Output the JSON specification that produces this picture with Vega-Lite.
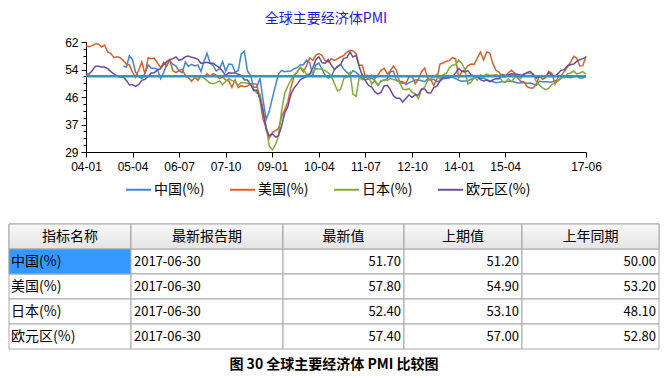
{
"$schema": "https://vega.github.io/schema/vega-lite/v6.json",
"background": "white",
"padding": {"left": 8, "top": 12, "right": 7, "bottom": 6},
"datasets": {
"pmi": [
{"月份":"2004-01","美国(%)":60.8,"欧元区(%)":52.4},
{"月份":"2004-02","美国(%)":60.6,"欧元区(%)":52.4},
{"月份":"2004-03","美国(%)":60.9,"欧元区(%)":53.4},
{"月份":"2004-04","美国(%)":61.4,"欧元区(%)":54.7},
{"月份":"2004-05","美国(%)":61.4,"欧元区(%)":54.7},
{"月份":"2004-06","美国(%)":60.5,"欧元区(%)":54.5},
{"月份":"2004-07","美国(%)":61.1,"欧元区(%)":54.5},
{"月份":"2004-08","美国(%)":59.0,"欧元区(%)":54.0},
{"月份":"2004-09","美国(%)":58.5,"欧元区(%)":53.1},
{"月份":"2004-10","美国(%)":57.3,"欧元区(%)":52.4},
{"月份":"2004-11","美国(%)":57.6,"欧元区(%)":51.8},
{"月份":"2004-12","美国(%)":57.3,"欧元区(%)":51.4},
{"月份":"2005-01","中国(%)":54.7,"美国(%)":56.4,"欧元区(%)":51.6},
{"月份":"2005-02","中国(%)":54.5,"美国(%)":55.3,"欧元区(%)":50.4},
{"月份":"2005-03","中国(%)":57.9,"美国(%)":55.2,"欧元区(%)":49.2},
{"月份":"2005-04","中国(%)":56.7,"美国(%)":52.9,"欧元区(%)":49.2},
{"月份":"2005-05","中国(%)":52.9,"美国(%)":51.4,"欧元区(%)":48.7},
{"月份":"2005-06","中国(%)":51.7,"美国(%)":53.6,"欧元区(%)":49.3},
{"月份":"2005-07","中国(%)":51.1,"美国(%)":56.0,"欧元区(%)":50.5},
{"月份":"2005-08","中国(%)":52.6,"美国(%)":52.4,"欧元区(%)":50.8},
{"月份":"2005-09","中国(%)":55.1,"美国(%)":57.3,"欧元区(%)":51.7},
{"月份":"2005-10","中国(%)":54.1,"美国(%)":57.0,"欧元区(%)":52.7},
{"月份":"2005-11","中国(%)":54.1,"美国(%)":57.2,"欧元区(%)":52.8},
{"月份":"2005-12","中国(%)":53.8,"美国(%)":55.7,"欧元区(%)":53.6},
{"月份":"2006-01","中国(%)":51.0,"美国(%)":54.3,"欧元区(%)":54.0},
{"月份":"2006-02","中国(%)":52.9,"美国(%)":55.9,"欧元区(%)":55.3},
{"月份":"2006-03","中国(%)":55.3,"美国(%)":54.7,"欧元区(%)":56.1},
{"月份":"2006-04","中国(%)":56.4,"美国(%)":56.6,"欧元区(%)":56.7},
{"月份":"2006-05","中国(%)":55.3,"美国(%)":53.4,"欧元区(%)":57.0},
{"月份":"2006-06","中国(%)":54.8,"美国(%)":52.8,"欧元区(%)":57.5},
{"月份":"2006-07","中国(%)":53.3,"美国(%)":53.5,"欧元区(%)":56.5},
{"月份":"2006-08","中国(%)":52.8,"美国(%)":53.8,"欧元区(%)":56.8},
{"月份":"2006-09","中国(%)":56.0,"美国(%)":52.0,"欧元区(%)":57.6},
{"月份":"2006-10","中国(%)":54.7,"美国(%)":51.3,"欧元区(%)":57.8},
{"月份":"2006-11","中国(%)":55.3,"美国(%)":50.2,"欧元区(%)":57.4},
{"月份":"2006-12","中国(%)":54.8,"美国(%)":51.4,"欧元区(%)":57.2},
{"月份":"2007-01","中国(%)":55.1,"美国(%)":50.5,"日本(%)":51.0,"欧元区(%)":56.8},
{"月份":"2007-02","中国(%)":53.1,"美国(%)":51.8,"日本(%)":52.0,"欧元区(%)":55.6},
{"月份":"2007-03","中国(%)":56.1,"美国(%)":51.5,"日本(%)":51.2,"欧元区(%)":55.8},
{"月份":"2007-04","中国(%)":58.6,"美国(%)":52.5,"日本(%)":50.4,"欧元区(%)":55.9},
{"月份":"2007-05","中国(%)":55.7,"美国(%)":51.8,"日本(%)":49.7,"欧元区(%)":55.6},
{"月份":"2007-06","中国(%)":54.9,"美国(%)":52.5,"日本(%)":49.5,"欧元区(%)":55.6},
{"月份":"2007-07","中国(%)":53.3,"美国(%)":52.0,"日本(%)":49.8,"欧元区(%)":54.9},
{"月份":"2007-08","中国(%)":54.0,"美国(%)":51.0,"日本(%)":50.3,"欧元区(%)":54.3},
{"月份":"2007-09","中国(%)":56.1,"美国(%)":51.5,"日本(%)":49.2,"欧元区(%)":53.2},
{"月份":"2007-10","中国(%)":53.2,"美国(%)":50.6,"日本(%)":50.2,"欧元区(%)":51.9},
{"月份":"2007-11","中国(%)":55.4,"美国(%)":50.3,"日本(%)":51.0,"欧元区(%)":52.8},
{"月份":"2007-12","中国(%)":55.3,"美国(%)":48.4,"日本(%)":50.4,"欧元区(%)":52.6},
{"月份":"2008-01","中国(%)":53.0,"美国(%)":50.7,"日本(%)":50.1,"欧元区(%)":52.8},
{"月份":"2008-02","中国(%)":53.4,"美国(%)":48.3,"日本(%)":49.0,"欧元区(%)":52.3},
{"月份":"2008-03","中国(%)":58.4,"美国(%)":48.9,"日本(%)":49.8,"欧元区(%)":52.0},
{"月份":"2008-04","中国(%)":59.2,"美国(%)":48.6,"日本(%)":49.8,"欧元区(%)":50.7},
{"月份":"2008-05","中国(%)":53.3,"美国(%)":48.8,"日本(%)":49.6,"欧元区(%)":50.6},
{"月份":"2008-06","中国(%)":52.0,"美国(%)":49.5,"日本(%)":49.2,"欧元区(%)":49.2},
{"月份":"2008-07","中国(%)":48.4,"美国(%)":49.5,"日本(%)":47.9,"欧元区(%)":47.4},
{"月份":"2008-08","中国(%)":48.4,"美国(%)":49.3,"日本(%)":46.7,"欧元区(%)":47.6},
{"月份":"2008-09","中国(%)":51.2,"美国(%)":44.8,"日本(%)":46.4,"欧元区(%)":45.0},
{"月份":"2008-10","中国(%)":44.6,"美国(%)":38.7,"日本(%)":42.1,"欧元区(%)":41.1},
{"月份":"2008-11","中国(%)":38.8,"美国(%)":36.4,"日本(%)":36.5,"欧元区(%)":35.6},
{"月份":"2008-12","中国(%)":41.2,"美国(%)":33.1,"日本(%)":30.8,"欧元区(%)":33.9},
{"月份":"2009-01","中国(%)":45.3,"美国(%)":34.9,"日本(%)":29.6,"欧元区(%)":34.4},
{"月份":"2009-02","中国(%)":49.0,"美国(%)":35.5,"日本(%)":31.3,"欧元区(%)":33.5},
{"月份":"2009-03","中国(%)":52.4,"美国(%)":36.0,"日本(%)":33.8,"欧元区(%)":33.9},
{"月份":"2009-04","中国(%)":53.5,"美国(%)":39.5,"日本(%)":41.4,"欧元区(%)":36.8},
{"月份":"2009-05","中国(%)":53.1,"美国(%)":41.7,"日本(%)":46.6,"欧元区(%)":40.7},
{"月份":"2009-06","中国(%)":53.2,"美国(%)":44.0,"日本(%)":48.8,"欧元区(%)":42.6},
{"月份":"2009-07","中国(%)":53.3,"美国(%)":48.4,"日本(%)":50.6,"欧元区(%)":46.3},
{"月份":"2009-08","中国(%)":54.0,"美国(%)":51.6,"日本(%)":52.1,"欧元区(%)":48.2},
{"月份":"2009-09","中国(%)":54.3,"美国(%)":53.1,"日本(%)":53.0,"欧元区(%)":49.3},
{"月份":"2009-10","中国(%)":55.2,"美国(%)":54.4,"日本(%)":54.3,"欧元区(%)":50.7},
{"月份":"2009-11","中国(%)":55.2,"美国(%)":53.0,"日本(%)":53.8,"欧元区(%)":51.2},
{"月份":"2009-12","中国(%)":56.6,"美国(%)":54.9,"日本(%)":52.3,"欧元区(%)":51.6},
{"月份":"2010-01","中国(%)":55.8,"美国(%)":57.2,"日本(%)":52.4,"欧元区(%)":52.4},
{"月份":"2010-02","中国(%)":52.0,"美国(%)":56.5,"日本(%)":52.5,"欧元区(%)":54.2},
{"月份":"2010-03","中国(%)":55.1,"美国(%)":58.0,"日本(%)":54.0,"欧元区(%)":56.6},
{"月份":"2010-04","中国(%)":55.7,"美国(%)":58.5,"日本(%)":53.9,"欧元区(%)":57.6},
{"月份":"2010-05","中国(%)":53.9,"美国(%)":58.0,"日本(%)":53.9,"欧元区(%)":55.8},
{"月份":"2010-06","中国(%)":52.1,"美国(%)":56.5,"日本(%)":53.4,"欧元区(%)":55.6},
{"月份":"2010-07","中国(%)":51.2,"美国(%)":56.0,"日本(%)":52.8,"欧元区(%)":56.7},
{"月份":"2010-08","中国(%)":51.7,"美国(%)":57.0,"日本(%)":51.8,"欧元区(%)":55.1},
{"月份":"2010-09","中国(%)":53.8,"美国(%)":56.5,"日本(%)":49.5,"欧元区(%)":53.7},
{"月份":"2010-10","中国(%)":54.7,"美国(%)":57.0,"日本(%)":47.3,"欧元区(%)":54.6},
{"月份":"2010-11","中国(%)":55.2,"美国(%)":57.5,"日本(%)":47.8,"欧元区(%)":55.3},
{"月份":"2010-12","中国(%)":53.9,"美国(%)":58.0,"日本(%)":51.1,"欧元区(%)":57.1},
{"月份":"2011-01","中国(%)":52.9,"美国(%)":59.0,"日本(%)":51.4,"欧元区(%)":57.3},
{"月份":"2011-02","中国(%)":52.2,"美国(%)":59.5,"日本(%)":52.9,"欧元区(%)":59.0},
{"月份":"2011-03","中国(%)":53.4,"美国(%)":59.3,"日本(%)":46.4,"欧元区(%)":57.5},
{"月份":"2011-04","中国(%)":52.9,"美国(%)":58.5,"日本(%)":45.7,"欧元区(%)":58.0},
{"月份":"2011-05","中国(%)":52.0,"美国(%)":55.0,"日本(%)":51.3,"欧元区(%)":54.6},
{"月份":"2011-06","中国(%)":50.9,"美国(%)":55.0,"日本(%)":50.7,"欧元区(%)":52.0},
{"月份":"2011-07","中国(%)":50.7,"美国(%)":51.5,"日本(%)":52.1,"欧元区(%)":50.4},
{"月份":"2011-08","中国(%)":50.9,"美国(%)":51.0,"日本(%)":51.9,"欧元区(%)":49.0},
{"月份":"2011-09","中国(%)":51.2,"美国(%)":52.0,"日本(%)":49.3,"欧元区(%)":48.5},
{"月份":"2011-10","中国(%)":50.4,"美国(%)":51.0,"日本(%)":50.6,"欧元区(%)":47.1},
{"月份":"2011-11","中国(%)":49.0,"美国(%)":52.0,"日本(%)":49.1,"欧元区(%)":46.4},
{"月份":"2011-12","中国(%)":50.3,"美国(%)":53.5,"日本(%)":50.2,"欧元区(%)":46.9},
{"月份":"2012-01","中国(%)":50.5,"美国(%)":54.1,"日本(%)":50.7,"欧元区(%)":48.8},
{"月份":"2012-02","中国(%)":51.0,"美国(%)":52.4,"日本(%)":50.5,"欧元区(%)":49.0},
{"月份":"2012-03","中国(%)":53.1,"美国(%)":53.4,"日本(%)":51.1,"欧元区(%)":47.7},
{"月份":"2012-04","中国(%)":53.3,"美国(%)":54.8,"日本(%)":50.7,"欧元区(%)":45.9},
{"月份":"2012-05","中国(%)":50.4,"美国(%)":53.5,"日本(%)":50.7,"欧元区(%)":45.1},
{"月份":"2012-06","中国(%)":50.2,"美国(%)":49.7,"日本(%)":49.9,"欧元区(%)":45.1},
{"月份":"2012-07","中国(%)":50.1,"美国(%)":49.8,"日本(%)":47.9,"欧元区(%)":44.0},
{"月份":"2012-08","中国(%)":49.2,"美国(%)":49.6,"日本(%)":47.7,"欧元区(%)":45.1},
{"月份":"2012-09","中国(%)":49.8,"美国(%)":51.5,"日本(%)":48.0,"欧元区(%)":46.1},
{"月份":"2012-10","中国(%)":50.2,"美国(%)":51.7,"日本(%)":46.9,"欧元区(%)":45.4},
{"月份":"2012-11","中国(%)":50.6,"美国(%)":49.5,"日本(%)":46.5,"欧元区(%)":46.2},
{"月份":"2012-12","中国(%)":50.6,"美国(%)":50.7,"日本(%)":45.0,"欧元区(%)":46.1},
{"月份":"2013-01","中国(%)":50.4,"美国(%)":53.1,"日本(%)":47.7,"欧元区(%)":47.9},
{"月份":"2013-02","中国(%)":50.1,"美国(%)":54.2,"日本(%)":48.5,"欧元区(%)":47.9},
{"月份":"2013-03","中国(%)":50.9,"美国(%)":51.3,"日本(%)":50.4,"欧元区(%)":46.8},
{"月份":"2013-04","中国(%)":50.6,"美国(%)":50.7,"日本(%)":51.1,"欧元区(%)":46.7},
{"月份":"2013-05","中国(%)":50.8,"美国(%)":49.0,"日本(%)":51.5,"欧元区(%)":48.3},
{"月份":"2013-06","中国(%)":50.1,"美国(%)":50.9,"日本(%)":52.3,"欧元区(%)":48.8},
{"月份":"2013-07","中国(%)":50.3,"美国(%)":55.4,"日本(%)":50.7,"欧元区(%)":50.3},
{"月份":"2013-08","中国(%)":51.0,"美国(%)":55.7,"日本(%)":52.2,"欧元区(%)":51.4},
{"月份":"2013-09","中国(%)":51.1,"美国(%)":56.2,"日本(%)":52.5,"欧元区(%)":51.1},
{"月份":"2013-10","中国(%)":51.4,"美国(%)":56.4,"日本(%)":54.2,"欧元区(%)":51.3},
{"月份":"2013-11","中国(%)":51.4,"美国(%)":57.3,"日本(%)":55.1,"欧元区(%)":51.6},
{"月份":"2013-12","中国(%)":51.0,"美国(%)":57.0,"日本(%)":55.2,"欧元区(%)":52.7},
{"月份":"2014-01","中国(%)":50.5,"美国(%)":51.3,"日本(%)":56.6,"欧元区(%)":54.0},
{"月份":"2014-02","中国(%)":50.2,"美国(%)":53.2,"日本(%)":55.5,"欧元区(%)":53.2},
{"月份":"2014-03","中国(%)":50.3,"美国(%)":53.7,"日本(%)":53.9,"欧元区(%)":53.0},
{"月份":"2014-04","中国(%)":50.4,"美国(%)":54.9,"日本(%)":49.4,"欧元区(%)":53.4},
{"月份":"2014-05","中国(%)":50.8,"美国(%)":55.4,"日本(%)":49.9,"欧元区(%)":52.2},
{"月份":"2014-06","中国(%)":51.0,"美国(%)":55.3,"日本(%)":51.5,"欧元区(%)":51.8},
{"月份":"2014-07","中国(%)":51.7,"美国(%)":57.1,"日本(%)":50.5,"欧元区(%)":51.8},
{"月份":"2014-08","中国(%)":51.1,"美国(%)":59.0,"日本(%)":52.2,"欧元区(%)":50.7},
{"月份":"2014-09","中国(%)":51.1,"美国(%)":56.6,"日本(%)":51.7,"欧元区(%)":50.3},
{"月份":"2014-10","中国(%)":50.8,"美国(%)":59.0,"日本(%)":52.4,"欧元区(%)":50.6},
{"月份":"2014-11","中国(%)":50.3,"美国(%)":58.7,"日本(%)":52.0,"欧元区(%)":50.1},
{"月份":"2014-12","中国(%)":50.1,"美国(%)":55.5,"日本(%)":52.0,"欧元区(%)":50.6},
{"月份":"2015-01","中国(%)":49.8,"美国(%)":53.5,"日本(%)":52.2,"欧元区(%)":51.0},
{"月份":"2015-02","中国(%)":49.9,"美国(%)":52.9,"日本(%)":51.6,"欧元区(%)":51.0},
{"月份":"2015-03","中国(%)":50.1,"美国(%)":51.5,"日本(%)":50.3,"欧元区(%)":52.2},
{"月份":"2015-04","中国(%)":50.1,"美国(%)":51.5,"日本(%)":49.9,"欧元区(%)":52.0},
{"月份":"2015-05","中国(%)":50.2,"美国(%)":52.8,"日本(%)":50.9,"欧元区(%)":52.2},
{"月份":"2015-06","中国(%)":50.2,"美国(%)":53.5,"日本(%)":50.1,"欧元区(%)":52.5},
{"月份":"2015-07","中国(%)":50.0,"美国(%)":52.7,"日本(%)":51.2,"欧元区(%)":52.4},
{"月份":"2015-08","中国(%)":49.7,"美国(%)":51.1,"日本(%)":51.7,"欧元区(%)":52.3},
{"月份":"2015-09","中国(%)":49.8,"美国(%)":50.2,"日本(%)":51.0,"欧元区(%)":52.0},
{"月份":"2015-10","中国(%)":49.8,"美国(%)":50.1,"日本(%)":52.4,"欧元区(%)":52.3},
{"月份":"2015-11","中国(%)":49.6,"美国(%)":48.6,"日本(%)":52.6,"欧元区(%)":52.8},
{"月份":"2015-12","中国(%)":49.7,"美国(%)":48.2,"日本(%)":52.6,"欧元区(%)":53.2},
{"月份":"2016-01","中国(%)":49.4,"美国(%)":48.2,"日本(%)":52.3,"欧元区(%)":52.3},
{"月份":"2016-02","中国(%)":49.0,"美国(%)":49.5,"日本(%)":50.1,"欧元区(%)":51.2},
{"月份":"2016-03","中国(%)":50.2,"美国(%)":51.8,"日本(%)":49.1,"欧元区(%)":51.6},
{"月份":"2016-04","中国(%)":50.1,"美国(%)":50.8,"日本(%)":48.2,"欧元区(%)":51.7},
{"月份":"2016-05","中国(%)":50.1,"美国(%)":51.3,"日本(%)":47.7,"欧元区(%)":51.5},
{"月份":"2016-06","中国(%)":50.0,"美国(%)":53.2,"日本(%)":48.1,"欧元区(%)":52.8},
{"月份":"2016-07","中国(%)":49.9,"美国(%)":52.6,"日本(%)":49.3,"欧元区(%)":52.0},
{"月份":"2016-08","中国(%)":50.4,"美国(%)":49.4,"日本(%)":49.5,"欧元区(%)":51.7},
{"月份":"2016-09","中国(%)":50.4,"美国(%)":51.5,"日本(%)":50.4,"欧元区(%)":52.6},
{"月份":"2016-10","中国(%)":51.2,"美国(%)":51.9,"日本(%)":51.4,"欧元区(%)":53.5},
{"月份":"2016-11","中国(%)":51.7,"美国(%)":53.2,"日本(%)":51.3,"欧元区(%)":53.7},
{"月份":"2016-12","中国(%)":51.4,"美国(%)":54.5,"日本(%)":52.4,"欧元区(%)":54.9},
{"月份":"2017-01","中国(%)":51.3,"美国(%)":56.0,"日本(%)":52.7,"欧元区(%)":55.2},
{"月份":"2017-02","中国(%)":51.6,"美国(%)":57.7,"日本(%)":53.3,"欧元区(%)":55.4},
{"月份":"2017-03","中国(%)":51.8,"美国(%)":57.2,"日本(%)":52.4,"欧元区(%)":56.2},
{"月份":"2017-04","中国(%)":51.2,"美国(%)":54.8,"日本(%)":52.7,"欧元区(%)":56.7},
{"月份":"2017-05","中国(%)":51.2,"美国(%)":54.9,"日本(%)":53.1,"欧元区(%)":57.0},
{"月份":"2017-06","中国(%)":51.7,"美国(%)":57.8,"日本(%)":52.4,"欧元区(%)":57.4}
],
"cells": [
{"行":"表头","列":"指标名称"},
{"行":"表头","列":"最新报告期"},
{"行":"表头","列":"最新值"},
{"行":"表头","列":"上期值"},
{"行":"表头","列":"上年同期"},
{"行":"中国(%)","列":"指标名称","文字":"中国(%)"},
{"行":"中国(%)","列":"最新报告期","文字":"2017-06-30"},
{"行":"中国(%)","列":"最新值","值":51.7},
{"行":"中国(%)","列":"上期值","值":51.2},
{"行":"中国(%)","列":"上年同期","值":50.0},
{"行":"美国(%)","列":"指标名称","文字":"美国(%)"},
{"行":"美国(%)","列":"最新报告期","文字":"2017-06-30"},
{"行":"美国(%)","列":"最新值","值":57.8},
{"行":"美国(%)","列":"上期值","值":54.9},
{"行":"美国(%)","列":"上年同期","值":53.2},
{"行":"日本(%)","列":"指标名称","文字":"日本(%)"},
{"行":"日本(%)","列":"最新报告期","文字":"2017-06-30"},
{"行":"日本(%)","列":"最新值","值":52.4},
{"行":"日本(%)","列":"上期值","值":53.1},
{"行":"日本(%)","列":"上年同期","值":48.1},
{"行":"欧元区(%)","列":"指标名称","文字":"欧元区(%)"},
{"行":"欧元区(%)","列":"最新报告期","文字":"2017-06-30"},
{"行":"欧元区(%)","列":"最新值","值":57.4},
{"行":"欧元区(%)","列":"上期值","值":57.0},
{"行":"欧元区(%)","列":"上年同期","值":52.8}
]
},
"title": {"text": "图 30 全球主要经济体 PMI 比较图", "orient": "bottom", "anchor": "middle", "font": "Noto Sans CJK SC", "fontSize": 14, "fontWeight": "bold", "color": "#000000", "offset": 8},
"columns": 1,
"spacing": 51,
"concat": [
{
"spacing": 0,
"bounds": "flush",
"hconcat": [
{"width": 77, "height": 110, "data": {"values": []}, "mark": "point"},
{
"width": 500,
"height": 110,
"title": {"text": "全球主要经济体PMI", "font": "Noto Sans CJK SC", "fontSize": 14, "fontWeight": "normal", "color": "#1c1cdc", "anchor": "middle", "offset": 10, "dx": -10},
"resolve": {"axis": {"y": "independent"}},
"layer": [
{
"data": {"name": "pmi"},
"transform": [{"fold": ["中国(%)", "美国(%)", "日本(%)", "欧元区(%)"], "as": ["系列", "数值"]}],
"mark": {"type": "line", "strokeWidth": 1.5},
"encoding": {
"x": {"field": "月份", "type": "temporal", "timeUnit": "utcyearmonth",
"scale": {"domain": [{"year": 2004, "month": 1, "utc": true}, {"year": 2017, "month": 6, "utc": true}], "nice": false},
"axis": {"title": null, "format": "%y-%m", "labelAngle": 0, "labelFlush": false, "labelOverlap": false, "tickSize": 5, "labelPadding": 4,
"values": [{"year": 2004, "month": 1, "utc": true}, {"year": 2005, "month": 4, "utc": true}, {"year": 2006, "month": 7, "utc": true}, {"year": 2007, "month": 10, "utc": true}, {"year": 2009, "month": 1, "utc": true}, {"year": 2010, "month": 4, "utc": true}, {"year": 2011, "month": 7, "utc": true}, {"year": 2012, "month": 10, "utc": true}, {"year": 2014, "month": 1, "utc": true}, {"year": 2015, "month": 4, "utc": true}, {"year": 2017, "month": 6, "utc": true}]}},
"y": {"field": "数值", "type": "quantitative", "scale": {"domain": [29, 62], "nice": false, "zero": false},
"axis": {"title": null, "orient": "left", "values": [29, 37.25, 45.5, 53.75, 62], "format": ".0f", "tickSize": 5, "labelPadding": 3}},
"color": {"field": "系列", "type": "nominal",
"scale": {"domain": ["中国(%)", "美国(%)", "日本(%)", "欧元区(%)"], "range": ["#3d87d0", "#d9622b", "#84aa3c", "#6b4c9e"]},
"legend": {"orient": "none", "legendX": 116, "legendY": 134, "direction": "horizontal", "columns": 4, "title": null, "symbolType": "stroke", "symbolSize": 625, "symbolStrokeWidth": 2, "labelFont": "Noto Sans CJK SC", "labelFontSize": 14, "labelColor": "#000000", "gridAlign": "all", "columnPadding": 7, "labelOffset": 2}}
}
},
{
"data": {"name": "cells"},
"transform": [{"filter": "datum['行'] === '中国(%)' && datum['列'] === '最新值'"}],
"mark": {"type": "rule", "color": "#2b97c4", "strokeWidth": 2.5},
"encoding": {
"y": {"field": "值", "type": "quantitative",
"axis": {"title": null, "orient": "left", "labels": false, "domain": false, "tickSize": 3,
"values": [59.9375, 57.875, 55.8125, 51.6875, 49.625, 47.5625, 43.4375, 41.375, 39.3125, 35.1875, 33.125, 31.0625]}}
}
}
]
}
]
},
{
"spacing": 0,
"bounds": "flush",
"hconcat": [
{
"width": 122, "height": 125,
"data": {"name": "cells"},
"transform": [{"filter": "datum['列'] === '指标名称'"}],
"encoding": {"y": {"field": "行", "type": "nominal", "scale": {"domain": ["表头", "中国(%)", "美国(%)", "日本(%)", "欧元区(%)"], "paddingInner": 0, "paddingOuter": 0}, "axis": null}},
"layer": [
{"mark": {"type": "rect", "fill": "#ffffff", "stroke": "#a8a8a8", "strokeWidth": 1}},
{"transform": [{"filter": "datum['行'] === '表头'"}], "mark": {"type": "rect", "stroke": "#a8a8a8", "strokeWidth": 1, "fill": {"gradient": "linear", "x1": 0, "y1": 0, "x2": 0, "y2": 1, "stops": [{"offset": 0, "color": "#f8f8f8"}, {"offset": 1, "color": "#e4e4e4"}]}}},
{"transform": [{"filter": "datum['行'] === '中国(%)'"}], "mark": {"type": "rect", "fill": "#3399ff", "stroke": "#a8a8a8", "strokeWidth": 1}},
{"transform": [{"filter": "datum['行'] === '表头'"}], "mark": {"type": "text", "align": "center", "font": "Noto Sans CJK SC", "fontSize": 14, "color": "#000000"},
"encoding": {"x": {"datum": 0.5, "type": "quantitative", "scale": {"domain": [0, 1]}, "axis": null}, "text": {"field": "列"}}},
{"transform": [{"filter": "datum['行'] !== '表头'"}], "mark": {"type": "text", "align": "left", "dx": 2, "font": "Noto Sans CJK SC", "fontSize": 14, "color": "#000000"},
"encoding": {"x": {"datum": 0, "type": "quantitative", "scale": {"domain": [0, 1]}, "axis": null}, "text": {"field": "文字"}}}
]
},
{
"width": 152, "height": 125,
"data": {"name": "cells"},
"transform": [{"filter": "datum['列'] === '最新报告期'"}],
"encoding": {"y": {"field": "行", "type": "nominal", "scale": {"domain": ["表头", "中国(%)", "美国(%)", "日本(%)", "欧元区(%)"], "paddingInner": 0, "paddingOuter": 0}, "axis": null}},
"layer": [
{"mark": {"type": "rect", "fill": "#ffffff", "stroke": "#a8a8a8", "strokeWidth": 1}},
{"transform": [{"filter": "datum['行'] === '表头'"}], "mark": {"type": "rect", "stroke": "#a8a8a8", "strokeWidth": 1, "fill": {"gradient": "linear", "x1": 0, "y1": 0, "x2": 0, "y2": 1, "stops": [{"offset": 0, "color": "#f8f8f8"}, {"offset": 1, "color": "#e4e4e4"}]}}},
{"transform": [{"filter": "datum['行'] === '表头'"}], "mark": {"type": "text", "align": "center", "font": "Noto Sans CJK SC", "fontSize": 14, "color": "#000000"},
"encoding": {"x": {"datum": 0.5, "type": "quantitative", "scale": {"domain": [0, 1]}, "axis": null}, "text": {"field": "列"}}},
{"transform": [{"filter": "datum['行'] !== '表头'"}], "mark": {"type": "text", "align": "left", "dx": 3, "font": "Noto Sans CJK SC", "fontSize": 13, "color": "#000000"},
"encoding": {"x": {"datum": 0, "type": "quantitative", "scale": {"domain": [0, 1]}, "axis": null}, "text": {"field": "文字"}}}
]
},
{
"width": 121, "height": 125,
"data": {"name": "cells"},
"transform": [{"filter": "datum['列'] === '最新值'"}],
"encoding": {"y": {"field": "行", "type": "nominal", "scale": {"domain": ["表头", "中国(%)", "美国(%)", "日本(%)", "欧元区(%)"], "paddingInner": 0, "paddingOuter": 0}, "axis": null}},
"layer": [
{"mark": {"type": "rect", "fill": "#ffffff", "stroke": "#a8a8a8", "strokeWidth": 1}},
{"transform": [{"filter": "datum['行'] === '表头'"}], "mark": {"type": "rect", "stroke": "#a8a8a8", "strokeWidth": 1, "fill": {"gradient": "linear", "x1": 0, "y1": 0, "x2": 0, "y2": 1, "stops": [{"offset": 0, "color": "#f8f8f8"}, {"offset": 1, "color": "#e4e4e4"}]}}},
{"transform": [{"filter": "datum['行'] === '表头'"}], "mark": {"type": "text", "align": "center", "font": "Noto Sans CJK SC", "fontSize": 14, "color": "#000000"},
"encoding": {"x": {"datum": 0.5, "type": "quantitative", "scale": {"domain": [0, 1]}, "axis": null}, "text": {"field": "列"}}},
{"transform": [{"filter": "datum['行'] !== '表头'"}], "mark": {"type": "text", "align": "right", "dx": -3, "font": "Noto Sans CJK SC", "fontSize": 13, "color": "#000000"},
"encoding": {"x": {"datum": 1, "type": "quantitative", "scale": {"domain": [0, 1]}, "axis": null}, "text": {"field": "值", "format": ".2f"}}}
]
},
{
"width": 118, "height": 125,
"data": {"name": "cells"},
"transform": [{"filter": "datum['列'] === '上期值'"}],
"encoding": {"y": {"field": "行", "type": "nominal", "scale": {"domain": ["表头", "中国(%)", "美国(%)", "日本(%)", "欧元区(%)"], "paddingInner": 0, "paddingOuter": 0}, "axis": null}},
"layer": [
{"mark": {"type": "rect", "fill": "#ffffff", "stroke": "#a8a8a8", "strokeWidth": 1}},
{"transform": [{"filter": "datum['行'] === '表头'"}], "mark": {"type": "rect", "stroke": "#a8a8a8", "strokeWidth": 1, "fill": {"gradient": "linear", "x1": 0, "y1": 0, "x2": 0, "y2": 1, "stops": [{"offset": 0, "color": "#f8f8f8"}, {"offset": 1, "color": "#e4e4e4"}]}}},
{"transform": [{"filter": "datum['行'] === '表头'"}], "mark": {"type": "text", "align": "center", "font": "Noto Sans CJK SC", "fontSize": 14, "color": "#000000"},
"encoding": {"x": {"datum": 0.5, "type": "quantitative", "scale": {"domain": [0, 1]}, "axis": null}, "text": {"field": "列"}}},
{"transform": [{"filter": "datum['行'] !== '表头'"}], "mark": {"type": "text", "align": "right", "dx": -3, "font": "Noto Sans CJK SC", "fontSize": 13, "color": "#000000"},
"encoding": {"x": {"datum": 1, "type": "quantitative", "scale": {"domain": [0, 1]}, "axis": null}, "text": {"field": "值", "format": ".2f"}}}
]
},
{
"width": 137, "height": 125,
"data": {"name": "cells"},
"transform": [{"filter": "datum['列'] === '上年同期'"}],
"encoding": {"y": {"field": "行", "type": "nominal", "scale": {"domain": ["表头", "中国(%)", "美国(%)", "日本(%)", "欧元区(%)"], "paddingInner": 0, "paddingOuter": 0}, "axis": null}},
"layer": [
{"mark": {"type": "rect", "fill": "#ffffff", "stroke": "#a8a8a8", "strokeWidth": 1}},
{"transform": [{"filter": "datum['行'] === '表头'"}], "mark": {"type": "rect", "stroke": "#a8a8a8", "strokeWidth": 1, "fill": {"gradient": "linear", "x1": 0, "y1": 0, "x2": 0, "y2": 1, "stops": [{"offset": 0, "color": "#f8f8f8"}, {"offset": 1, "color": "#e4e4e4"}]}}},
{"transform": [{"filter": "datum['行'] === '表头'"}], "mark": {"type": "text", "align": "center", "font": "Noto Sans CJK SC", "fontSize": 14, "color": "#000000"},
"encoding": {"x": {"datum": 0.5, "type": "quantitative", "scale": {"domain": [0, 1]}, "axis": null}, "text": {"field": "列"}}},
{"transform": [{"filter": "datum['行'] !== '表头'"}], "mark": {"type": "text", "align": "right", "dx": -3, "font": "Noto Sans CJK SC", "fontSize": 13, "color": "#000000"},
"encoding": {"x": {"datum": 1, "type": "quantitative", "scale": {"domain": [0, 1]}, "axis": null}, "text": {"field": "值", "format": ".2f"}}}
]
}
]
}
],
"config": {
"view": {"stroke": null},
"axis": {"labelFont": "Liberation Sans", "labelFontSize": 12, "labelColor": "#000000", "domainColor": "#000000", "tickColor": "#000000", "grid": false, "domainWidth": 1, "tickWidth": 1}
}
}
